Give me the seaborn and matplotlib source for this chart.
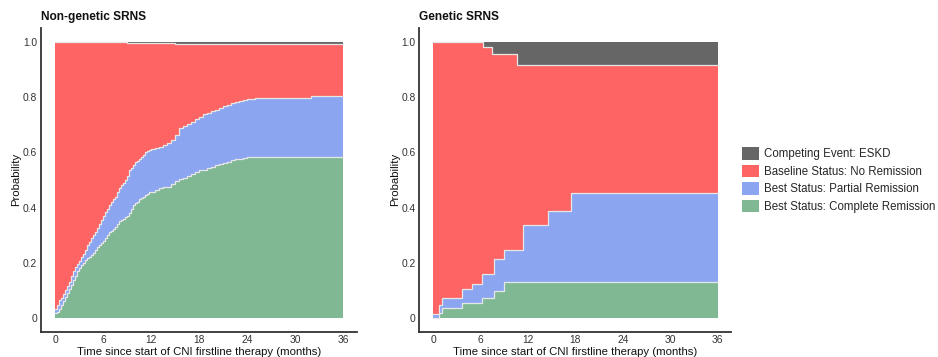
import numpy as np
import pandas as pd
import matplotlib
matplotlib.use("Agg")
import matplotlib.pyplot as plt
from matplotlib.patches import Patch
import seaborn as sns

# ---------------- data (cumulative stacked boundaries) -------------
# Non-genetic SRNS
ng_time = [0, 0.25, 0.5, 0.75, 1, 1.25, 1.5, 1.75, 2, 2.25, 2.5, 2.75,
           3, 3.25, 3.5, 3.75, 4, 4.25, 4.5, 4.75, 5, 5.25, 5.5, 5.75,
           6, 6.25, 6.5, 6.75, 7, 7.25, 7.5, 7.75, 8, 8.25, 8.5, 8.75,
           9, 9.25, 9.5, 9.75, 10, 10.25, 10.5, 10.75, 11, 11.25, 11.5, 11.75, 12,
           12.5, 13, 13.5, 14, 14.5,
           15, 15.5, 16, 16.5, 17, 17.5, 18, 18.5, 19, 19.5, 20, 20.5, 21, 21.5,
           22, 22.5, 23, 23.5, 24,
           25, 28.5, 32, 36]
ng_complete = [0.016, 0.022, 0.03, 0.045, 0.06, 0.075, 0.09, 0.105, 0.12, 0.135, 0.15, 0.17,
               0.18, 0.19, 0.20, 0.21, 0.215, 0.22, 0.228, 0.234, 0.245, 0.255, 0.265, 0.27,
               0.28, 0.29, 0.30, 0.31, 0.315, 0.322, 0.33, 0.34, 0.35, 0.355, 0.36, 0.365,
               0.37, 0.38, 0.395, 0.409, 0.415, 0.42, 0.43, 0.435, 0.44, 0.445, 0.45, 0.455, 0.458,
               0.465, 0.47, 0.474, 0.476, 0.485,
               0.495, 0.503, 0.508, 0.514, 0.52, 0.528, 0.535, 0.538, 0.542, 0.548, 0.553, 0.558,
               0.563, 0.567, 0.571, 0.575, 0.578, 0.581, 0.585,
               0.585, 0.585, 0.585, 0.585]
ng_partial_cum = [0.03, 0.045, 0.065, 0.072, 0.085, 0.10, 0.115, 0.13, 0.15, 0.17, 0.185, 0.195,
                  0.205, 0.22, 0.23, 0.245, 0.265, 0.275, 0.29, 0.30, 0.31, 0.325, 0.34, 0.355,
                  0.37, 0.385, 0.395, 0.41, 0.42, 0.43, 0.44, 0.455, 0.47, 0.48, 0.49, 0.50,
                  0.515, 0.535, 0.545, 0.555, 0.565, 0.57, 0.578, 0.585, 0.592, 0.60, 0.605, 0.609, 0.612,
                  0.615, 0.62, 0.627, 0.633, 0.645,
                  0.665, 0.69, 0.697, 0.703, 0.71, 0.72, 0.73, 0.738, 0.745, 0.75, 0.755, 0.762,
                  0.768, 0.772, 0.778, 0.783, 0.788, 0.792, 0.795,
                  0.797, 0.799, 0.806, 0.806]
ng_noremission_cum = [1.0] * 36 + [0.998] * 18 + [0.994] * 23

# Genetic SRNS
g_time = [0, 0.72, 1.14, 3.6, 4.87, 6.13, 6.34, 7.4, 7.7, 8.96, 10.57, 11.4, 14.5, 17.5, 36]
g_complete = [0.0, 0.018, 0.034, 0.052, 0.052, 0.073, 0.073, 0.073, 0.098, 0.128,
              0.128, 0.128, 0.128, 0.128, 0.128]
g_partial_cum = [0.013, 0.046, 0.07, 0.104, 0.121, 0.159, 0.159, 0.159, 0.213, 0.246,
                 0.246, 0.337, 0.389, 0.454, 0.454]
g_noremission_cum = [1.0, 1.0, 1.0, 1.0, 1.0, 1.0, 0.984, 0.957, 0.957, 0.957,
                     0.918, 0.918, 0.918, 0.918, 0.918]

titles = ["Non-genetic SRNS", "Genetic SRNS"]
legend_labels = ["Competing Event: ESKD", "Baseline Status: No Remission",
                 "Best Status: Partial Remission", "Best Status: Complete Remission"]
x_ticks = [0, 6, 12, 18, 24, 30, 36]
y_ticks = [0, 0.2, 0.4, 0.6, 0.8, 1.0]
y_ticklabels = ["0", "0.2", "0.4", "0.6", "0.8", "1.0"]

# ---------------- style ----------------
sns.set_theme(style="white")
plt.rcParams["font.family"] = ["Liberation Sans", "DejaVu Sans"]

colors = {"eskd": "#666666", "nr": "#FF6464", "pr": "#8BA5F1", "cr": "#80B894"}
edge_col = "#E6E6E6"

fig = plt.figure(figsize=(9.38, 3.57), dpi=100)
W, H = 938, 357


def add_ax(left_px, right_px, top_px, bottom_px):
    return fig.add_axes([left_px / W, 1 - bottom_px / H,
                         (right_px - left_px) / W, (bottom_px - top_px) / H])


ax1 = add_ax(40.7, 357, 28, 331.7)
ax2 = add_ax(419, 731, 28, 331.7)

panels = [
    (ax1, ng_time, ng_complete, ng_partial_cum, ng_noremission_cum),
    (ax2, g_time, g_complete, g_partial_cum, g_noremission_cum),
]

for i, (ax, t, cr, pr, nr) in enumerate(panels):
    t = np.asarray(t, float)
    cr = np.asarray(cr, float)
    pr = np.asarray(pr, float)
    nr = np.asarray(nr, float)
    one = np.ones_like(t)
    ax.fill_between(t, 0, cr, step="post", color=colors["cr"], lw=0)
    ax.fill_between(t, cr, pr, step="post", color=colors["pr"], lw=0)
    ax.fill_between(t, pr, nr, step="post", color=colors["nr"], lw=0)
    ax.fill_between(t, nr, one, step="post", color=colors["eskd"], lw=0)
    for yb in (cr, pr, nr):
        df = pd.DataFrame({"t": t, "y": yb})
        sns.lineplot(data=df, x="t", y="y", ax=ax, color=edge_col, lw=0.9,
                     drawstyle="steps-post", estimator=None, legend=False)

    ax.set_xlim(-1.8, 37.7)
    ax.set_ylim(-0.051, 1.052)
    ax.set_xticks(x_ticks)
    ax.set_xticklabels([str(v) for v in x_ticks])
    ax.set_yticks(y_ticks)
    ax.set_yticklabels(y_ticklabels)
    ax.tick_params(axis="both", labelsize=7.4, colors="#333333", length=0, pad=2.5)
    ax.set_xlabel("Time since start of CNI firstline therapy (months)", fontsize=8.2,
                  color="#111111", labelpad=1)
    ax.set_ylabel("Probability", fontsize=8.2, color="#111111", labelpad=1)
    ax.set_title(titles[i], fontsize=8.6, fontweight="bold", loc="left", x=-0.0,
                 pad=6, color="#111111")
    sns.despine(ax=ax)
    for s in ("left", "bottom"):
        ax.spines[s].set_color("#333333")
        ax.spines[s].set_linewidth(1.3)

handles = [Patch(facecolor=colors[k], edgecolor="none") for k in ("eskd", "nr", "pr", "cr")]
fig.legend(handles, legend_labels, loc="upper left", bbox_to_anchor=(742 / W, 1 - 147 / H),
           frameon=False, fontsize=8.3, handlelength=1.5, handleheight=1.3,
           labelspacing=0.38, handletextpad=0.45, borderaxespad=0, borderpad=0)

fig.savefig("out.png", dpi=100)
